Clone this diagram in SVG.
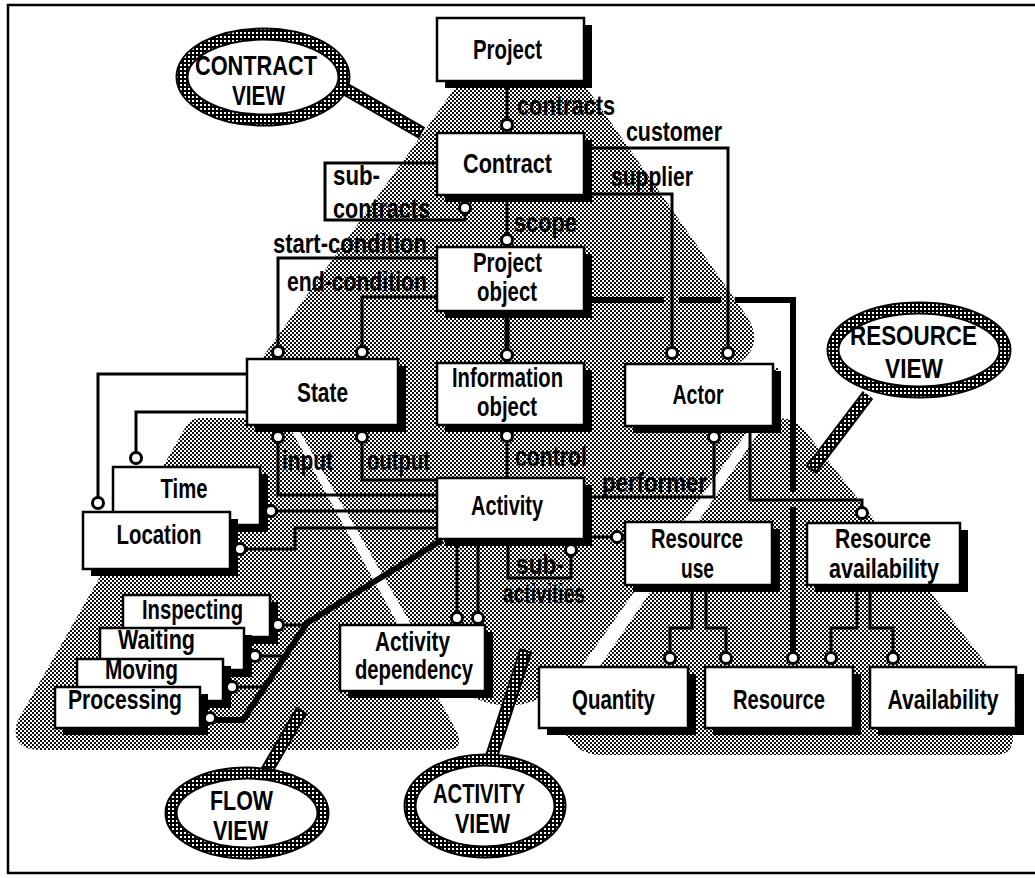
<svg xmlns="http://www.w3.org/2000/svg" width="1035" height="878" viewBox="0 0 1035 878">
<defs>
<pattern id="chk" width="4" height="4" patternUnits="userSpaceOnUse">
<rect width="4" height="4" fill="#fff"/>
<rect width="2" height="2" fill="#111"/>
<rect x="2" y="2" width="2" height="2" fill="#111"/>
</pattern>
<pattern id="ring" width="4" height="4" patternUnits="userSpaceOnUse">
<rect width="4" height="4" fill="#000"/>
<rect width="2" height="2" fill="#fff"/>
</pattern>
</defs>
<style>
.frame{fill:none;stroke:#000;stroke-width:2.5}
.view{fill:url(#chk)}
.sh{fill:#000}
.box{fill:#fff;stroke:#000;stroke-width:2.5}
.t{font-family:"Liberation Sans",Arial,sans-serif;font-weight:bold;font-size:28px;fill:#000;text-anchor:middle}
.ln{fill:none;stroke:#000;stroke-width:3}
.thk{fill:none;stroke:#000;stroke-width:6}
.end{fill:#fff;stroke:#000;stroke-width:3}
.ring-o{fill:#fff;stroke:#000;stroke-width:13}
.ring-i{fill:none;stroke:url(#ring);stroke-width:9}
.hdl-o{stroke:#000;stroke-width:13}
.hdl-i{stroke:url(#ring);stroke-width:9}
</style>
<rect width="1035" height="878" fill="#fff"/>
<path class="frame" d="M1035,5H8V873H1035"/>

<g id="view-areas">
<path class="view" d="M503,20L539,20L748,318Q762,342 745,358Q735,368 720,368L275,368Q258,368 262,358L423,133Z"/>
<path class="view" d="M272,368L778,368L780,428L747,432L575,676Q508,735 441,676L296,425Z"/>
<path class="view" d="M200,418L280,418Q285,418 288,424L456,730Q466,750 445,750L40,750Q10,750 17,722L185,428Q190,418 200,418Z"/>
<path class="view" d="M759,432Q785,405 806,432L1005,688Q1013,698 1013,712L1013,738Q1013,755 995,755L600,755Q575,755 560,725Z"/>
</g>

<g id="n-project"><rect class="sh" x="445" y="25" width="147" height="63"/><rect class="box" x="437" y="18" width="147" height="63"/><text class="t" x="507.5" y="59" textLength="69" lengthAdjust="spacingAndGlyphs">Project</text></g>
<g id="n-contract"><rect class="sh" x="445" y="140" width="147" height="62"/><rect class="box" x="437" y="133" width="147" height="62"/><text class="t" x="507.5" y="173" textLength="89" lengthAdjust="spacingAndGlyphs">Contract</text></g>
<g id="n-project-object"><rect class="sh" x="445" y="254" width="147" height="64"/><rect class="box" x="437" y="247" width="147" height="64"/><text class="t" x="507.5" y="272" textLength="69" lengthAdjust="spacingAndGlyphs">Project</text><text class="t" x="507" y="301" textLength="60" lengthAdjust="spacingAndGlyphs">object</text></g>
<g id="n-state"><rect class="sh" x="255" y="366" width="151" height="66"/><rect class="box" x="247" y="359" width="151" height="66"/><text class="t" x="322.5" y="402" textLength="51" lengthAdjust="spacingAndGlyphs">State</text></g>
<g id="n-information-object"><rect class="sh" x="445" y="370" width="147" height="62"/><rect class="box" x="437" y="363" width="147" height="62"/><text class="t" x="507.5" y="387" textLength="111" lengthAdjust="spacingAndGlyphs">Information</text><text class="t" x="507" y="416" textLength="60" lengthAdjust="spacingAndGlyphs">object</text></g>
<g id="n-actor"><rect class="sh" x="633" y="371" width="148" height="62"/><rect class="box" x="625" y="364" width="148" height="62"/><text class="t" x="698" y="404" textLength="51" lengthAdjust="spacingAndGlyphs">Actor</text></g>
<g id="n-time"><rect class="sh" x="121" y="474" width="147" height="58"/><rect class="box" x="113" y="467" width="147" height="58"/><text class="t" x="184" y="498" textLength="47" lengthAdjust="spacingAndGlyphs">Time</text></g>
<g id="n-location"><rect class="sh" x="91" y="519" width="147" height="57"/><rect class="box" x="83" y="512" width="147" height="57"/><text class="t" x="159" y="544" textLength="85" lengthAdjust="spacingAndGlyphs">Location</text></g>
<g id="n-activity"><rect class="sh" x="445" y="485" width="147" height="61"/><rect class="box" x="437" y="478" width="147" height="61"/><text class="t" x="507" y="515" textLength="72" lengthAdjust="spacingAndGlyphs">Activity</text></g>
<g id="n-resource-use"><rect class="sh" x="633" y="529" width="147" height="63"/><rect class="box" x="625" y="522" width="147" height="63"/><text class="t" x="697" y="548" textLength="92" lengthAdjust="spacingAndGlyphs">Resource</text><text class="t" x="697.5" y="578" textLength="33" lengthAdjust="spacingAndGlyphs">use</text></g>
<g id="n-resource-availability"><rect class="sh" x="815" y="530" width="153" height="62"/><rect class="box" x="807" y="523" width="153" height="62"/><text class="t" x="883" y="548" textLength="96" lengthAdjust="spacingAndGlyphs">Resource</text><text class="t" x="884" y="578" textLength="110" lengthAdjust="spacingAndGlyphs">availability</text></g>
<g id="n-activity-dependency"><rect class="sh" x="348" y="632" width="145" height="66"/><rect class="box" x="340" y="625" width="145" height="66"/><text class="t" x="412.5" y="651" textLength="75" lengthAdjust="spacingAndGlyphs">Activity</text><text class="t" x="414" y="679" textLength="118" lengthAdjust="spacingAndGlyphs">dependency</text></g>
<g id="n-inspecting"><rect class="sh" x="131" y="602" width="147" height="42"/><rect class="box" x="123" y="595" width="147" height="42"/><text class="t" x="192.5" y="619" textLength="101" lengthAdjust="spacingAndGlyphs">Inspecting</text></g>
<g id="n-waiting"><rect class="sh" x="108" y="635" width="144" height="42"/><rect class="box" x="100" y="628" width="144" height="42"/><text class="t" x="156.5" y="649" textLength="77" lengthAdjust="spacingAndGlyphs">Waiting</text></g>
<g id="n-moving"><rect class="sh" x="85" y="666" width="146" height="42"/><rect class="box" x="77" y="659" width="146" height="42"/><text class="t" x="141.5" y="679" textLength="73" lengthAdjust="spacingAndGlyphs">Moving</text></g>
<g id="n-processing"><rect class="sh" x="63" y="694" width="145" height="41"/><rect class="box" x="55" y="687" width="145" height="41"/><text class="t" x="125" y="709" textLength="114" lengthAdjust="spacingAndGlyphs">Processing</text></g>
<g id="n-quantity"><rect class="sh" x="547" y="674" width="149" height="61"/><rect class="box" x="539" y="667" width="149" height="61"/><text class="t" x="613.5" y="709" textLength="83" lengthAdjust="spacingAndGlyphs">Quantity</text></g>
<g id="n-resource"><rect class="sh" x="713" y="674" width="148" height="61"/><rect class="box" x="705" y="667" width="148" height="61"/><text class="t" x="779" y="709" textLength="92" lengthAdjust="spacingAndGlyphs">Resource</text></g>
<g id="n-availability"><rect class="sh" x="878" y="674" width="146" height="61"/><rect class="box" x="870" y="667" width="146" height="61"/><text class="t" x="943" y="709" textLength="111" lengthAdjust="spacingAndGlyphs">Availability</text></g>

<g id="connectors">
<path class="ln" d="M507,88V119"/>
<path class="ln" d="M507,202V234"/>
<path class="ln" d="M437,163H325V220H465V214"/>
<path class="ln" d="M437,258H278V346"/>
<path class="ln" d="M437,297H362V346"/>
<path class="thk" style="stroke-width:5" d="M507,318V350"/>
<path class="ln" d="M592,148H728V347"/>
<path class="ln" d="M592,194H672V347"/>
<path class="thk" d="M592,300H664M679,300H721M735,300H793V492M793,507V652"/>
<path class="ln" d="M507,442V478"/>
<path class="ln" d="M278,443V495H437"/>
<path class="ln" d="M362,443V480H437"/>
<path class="ln" d="M277,511H437"/>
<path class="ln" d="M246,549H295V528H437"/>
<path class="ln" d="M247,412H136V452"/>
<path class="ln" d="M247,374H98V497"/>
<path class="thk" d="M442,540L307,623L243,720H216"/>
<path class="ln" d="M284,625H305"/>
<path class="ln" d="M261,656H286"/>
<path class="ln" d="M238,687H265"/>
<path class="ln" d="M457,546V612"/>
<path class="ln" d="M478,546V612"/>
<path class="ln" d="M508,546V578H571V556"/>
<path class="ln" d="M592,537H611"/>
<path class="ln" d="M714,443V497H592"/>
<path class="ln" d="M750,433V500H862V507"/>
<path class="ln" d="M692,592V628H670V652"/>
<path class="ln" d="M706,592V628H726V652"/>
<path class="ln" d="M857,592V628H831V652"/>
<path class="ln" d="M870,592V628H893V652"/>
<g id="connector-ends">
<circle class="end" cx="507" cy="125" r="5.5"/>
<circle class="end" cx="507" cy="240" r="5.5"/>
<circle class="end" cx="465" cy="208" r="5.5"/>
<circle class="end" cx="278" cy="352" r="5.5"/>
<circle class="end" cx="362" cy="352" r="5.5"/>
<circle class="end" cx="507" cy="355" r="5.5"/>
<circle class="end" cx="728" cy="353" r="5.5"/>
<circle class="end" cx="672" cy="353" r="5.5"/>
<circle class="end" cx="793" cy="658" r="5.5"/>
<circle class="end" cx="507" cy="436" r="5.5"/>
<circle class="end" cx="278" cy="437" r="5.5"/>
<circle class="end" cx="362" cy="437" r="5.5"/>
<circle class="end" cx="271" cy="511" r="5.5"/>
<circle class="end" cx="240" cy="549" r="5.5"/>
<circle class="end" cx="136" cy="458" r="5.5"/>
<circle class="end" cx="98" cy="503" r="5.5"/>
<circle class="end" cx="210" cy="718" r="5.5"/>
<circle class="end" cx="278" cy="625" r="5.5"/>
<circle class="end" cx="255" cy="656" r="5.5"/>
<circle class="end" cx="232" cy="687" r="5.5"/>
<circle class="end" cx="457" cy="618" r="5.5"/>
<circle class="end" cx="478" cy="618" r="5.5"/>
<circle class="end" cx="571" cy="550" r="5.5"/>
<circle class="end" cx="617" cy="537" r="5.5"/>
<circle class="end" cx="714" cy="437" r="5.5"/>
<circle class="end" cx="862" cy="513" r="5.5"/>
<circle class="end" cx="670" cy="658" r="5.5"/>
<circle class="end" cx="726" cy="658" r="5.5"/>
<circle class="end" cx="831" cy="658" r="5.5"/>
<circle class="end" cx="893" cy="658" r="5.5"/>
</g>
<g id="connector-labels">
<text class="t" x="566" y="115" textLength="98" lengthAdjust="spacingAndGlyphs">contracts</text>
<text class="t" x="674" y="141" textLength="96" lengthAdjust="spacingAndGlyphs">customer</text>
<text class="t" x="652" y="186" textLength="82" lengthAdjust="spacingAndGlyphs">supplier</text>
<text class="t" x="356.5" y="185" textLength="47" lengthAdjust="spacingAndGlyphs">sub-</text>
<text class="t" x="381.5" y="218" textLength="97" lengthAdjust="spacingAndGlyphs">contracts</text>
<text class="t" x="545.5" y="232" textLength="63" lengthAdjust="spacingAndGlyphs">scope</text>
<text class="t" x="350" y="253" textLength="154" lengthAdjust="spacingAndGlyphs">start-condition</text>
<text class="t" x="357" y="291" textLength="140" lengthAdjust="spacingAndGlyphs">end-condition</text>
<text class="t" x="307.5" y="470" textLength="51" lengthAdjust="spacingAndGlyphs">input</text>
<text class="t" x="398.5" y="470" textLength="63" lengthAdjust="spacingAndGlyphs">output</text>
<text class="t" x="551" y="466" textLength="72" lengthAdjust="spacingAndGlyphs">control</text>
<text class="t" x="654.5" y="492" textLength="105" lengthAdjust="spacingAndGlyphs">performer</text>
<text class="t" x="540" y="574" textLength="48" lengthAdjust="spacingAndGlyphs">sub-</text>
<text class="t" x="544" y="603" textLength="82" lengthAdjust="spacingAndGlyphs">activities</text>
</g>
</g>

<g id="v-contract">
<line class="hdl-o" x1="340" y1="86" x2="422" y2="133"/><line class="hdl-i" x1="340" y1="86" x2="420" y2="132"/>
<ellipse class="ring-o" cx="263" cy="77" rx="81" ry="43"/><ellipse class="ring-i" cx="263" cy="77" rx="81" ry="43"/>
<text class="t" x="256" y="75" textLength="122" lengthAdjust="spacingAndGlyphs">CONTRACT</text>
<text class="t" x="258.5" y="105" textLength="53" lengthAdjust="spacingAndGlyphs">VIEW</text>
</g>
<g id="v-resource">
<line class="hdl-o" x1="868" y1="395" x2="811" y2="470"/><line class="hdl-i" x1="868" y1="395" x2="812" y2="468"/>
<ellipse class="ring-o" cx="919" cy="350" rx="86" ry="42"/><ellipse class="ring-i" cx="919" cy="350" rx="86" ry="42"/>
<text class="t" x="913.5" y="345" textLength="127" lengthAdjust="spacingAndGlyphs">RESOURCE</text>
<text class="t" x="914" y="378" textLength="58" lengthAdjust="spacingAndGlyphs">VIEW</text>
</g>
<g id="v-flow">
<line class="hdl-o" x1="302" y1="710" x2="266" y2="772"/><line class="hdl-i" x1="301" y1="712" x2="266" y2="772"/>
<ellipse class="ring-o" cx="247" cy="813" rx="76" ry="40"/><ellipse class="ring-i" cx="247" cy="813" rx="76" ry="40"/>
<text class="t" x="241.5" y="810" textLength="63" lengthAdjust="spacingAndGlyphs">FLOW</text>
<text class="t" x="240.5" y="840" textLength="55" lengthAdjust="spacingAndGlyphs">VIEW</text>
</g>
<g id="v-activity">
<line class="hdl-o" x1="526" y1="650" x2="491" y2="758"/><line class="hdl-i" x1="525" y1="652" x2="491" y2="758"/>
<ellipse class="ring-o" cx="485" cy="806" rx="75" ry="46"/><ellipse class="ring-i" cx="485" cy="806" rx="75" ry="46"/>
<text class="t" x="479" y="803" textLength="92" lengthAdjust="spacingAndGlyphs">ACTIVITY</text>
<text class="t" x="482.5" y="833" textLength="55" lengthAdjust="spacingAndGlyphs">VIEW</text>
</g>
</svg>
